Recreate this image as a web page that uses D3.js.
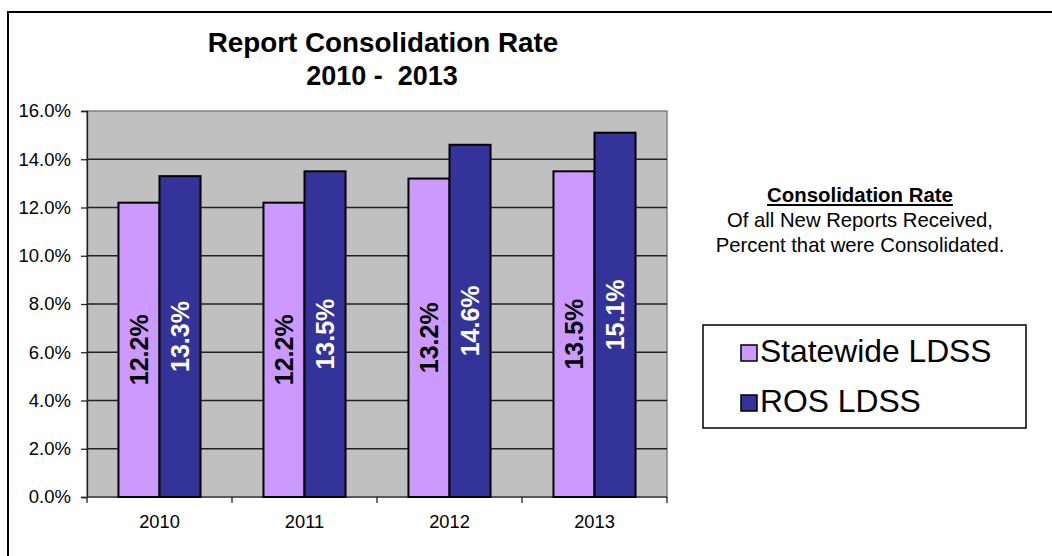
<!DOCTYPE html>
<html>
<head>
<meta charset="utf-8">
<script src="https://cdn.jsdelivr.net/npm/d3@7"></script>
<style>
  body { margin: 0; background: #fff; }
  svg { display: block; font-family: Arial, "Liberation Sans", sans-serif; }
</style>
</head>
<body>
<div id="chart"></div>
<script>
// data
var years = ["2010", "2011", "2012", "2013"];
var seriesNames = ["Statewide LDSS", "ROS LDSS"];
var statewide = [12.2, 12.2, 13.2, 13.5];
var ros = [13.3, 13.5, 14.6, 15.1];
var seriesColors = ["#CC99FF", "#333399"];
var labelColors = ["#000", "#fff"];
var yTicks = [0, 2, 4, 6, 8, 10, 12, 14, 16];
var noteLines = ["Of all New Reports Received,", "Percent that were Consolidated."];

var W = 1052, H = 556;
var plot = {left: 87, top: 111, right: 667, bottom: 497};

var svg = d3.select("#chart").append("svg")
    .attr("width", W)
    .attr("height", H);

// outer frame (runs off the right and bottom edge)
svg.append("rect")
    .attr("x", 8).attr("y", 12)
    .attr("width", W + 20).attr("height", H + 20)
    .attr("fill", "#fff")
    .attr("stroke", "#000")
    .attr("stroke-width", 2);

var x0 = d3.scaleBand()
    .domain(years)
    .range([plot.left, plot.right]);
var groupW = x0.bandwidth() * 0.566;
var x1 = d3.scaleBand()
    .domain(seriesNames)
    .range([(x0.bandwidth() - groupW) / 2, (x0.bandwidth() + groupW) / 2]);
var y = d3.scaleLinear()
    .domain([0, 16])
    .range([plot.bottom, plot.top]);

// plot background
svg.append("rect")
    .attr("x", plot.left).attr("y", plot.top)
    .attr("width", plot.right - plot.left)
    .attr("height", plot.bottom - plot.top)
    .attr("fill", "#C0C0C0")
    .attr("stroke", "#808080")
    .attr("stroke-width", 1.5);

// gridlines
svg.append("g").selectAll("line")
    .data(yTicks.filter(function(d) { return d > 0 && d < 16; }))
    .enter().append("line")
    .attr("x1", plot.left).attr("x2", plot.right)
    .attr("y1", function(d) { return y(d); })
    .attr("y2", function(d) { return y(d); })
    .attr("stroke", "#222")
    .attr("stroke-width", 1.3);

// y axis
var yAxis = svg.append("g")
    .attr("transform", "translate(" + plot.left + ",0)")
    .call(d3.axisLeft(y).tickValues(yTicks).tickSize(6).tickPadding(10)
        .tickFormat(function(d) { return d.toFixed(1) + "%"; }));
yAxis.select(".domain").attr("stroke", "#222").attr("stroke-width", 1.3);
yAxis.selectAll(".tick line").attr("stroke", "#222").attr("stroke-width", 1.3);
yAxis.selectAll("text")
    .attr("fill", "#000")
    .style("font-size", "18.5px")
    .style("font-family", "Arial, 'Liberation Sans', sans-serif");

// x axis: ticks at band edges
var xAxis = svg.append("g")
    .attr("transform", "translate(0," + plot.bottom + ")");
xAxis.append("line")
    .attr("x1", plot.left).attr("x2", plot.right)
    .attr("stroke", "#444").attr("stroke-width", 1.5);
xAxis.selectAll("line.edge")
    .data(years.concat(["end"]))
    .enter().append("line")
    .attr("class", "edge")
    .attr("x1", function(d, i) { return plot.left + i * x0.bandwidth(); })
    .attr("x2", function(d, i) { return plot.left + i * x0.bandwidth(); })
    .attr("y1", 0).attr("y2", 6)
    .attr("stroke", "#222").attr("stroke-width", 1.3);
xAxis.selectAll("text")
    .data(years)
    .enter().append("text")
    .attr("x", function(d) { return x0(d) + x0.bandwidth() / 2; })
    .attr("y", 31)
    .attr("text-anchor", "middle")
    .style("font-size", "18.3px")
    .text(function(d) { return d; });

// bars
var rows = years.map(function(yr, i) {
    return {year: yr, values: [statewide[i], ros[i]]};
});
var groups = svg.append("g").selectAll("g")
    .data(rows)
    .enter().append("g")
    .attr("transform", function(d) { return "translate(" + x0(d.year) + ",0)"; });

groups.selectAll("rect")
    .data(function(d) { return d.values.map(function(v, k) { return {k: k, v: v}; }); })
    .enter().append("rect")
    .attr("x", function(d) { return x1(seriesNames[d.k]); })
    .attr("width", x1.bandwidth())
    .attr("y", function(d) { return y(d.v); })
    .attr("height", function(d) { return y(0) - y(d.v); })
    .attr("fill", function(d) { return seriesColors[d.k]; })
    .attr("stroke", "#000")
    .attr("stroke-width", 2);

// value labels, rotated and centred in the bar
groups.selectAll("text")
    .data(function(d) { return d.values.map(function(v, k) { return {k: k, v: v}; }); })
    .enter().append("text")
    .attr("transform", function(d) {
        var cx = x1(seriesNames[d.k]) + x1.bandwidth() / 2;
        var cy = (y(d.v) + y(0)) / 2;
        return "translate(" + cx + "," + cy + ") rotate(-90)";
    })
    .attr("text-anchor", "middle")
    .attr("dy", "0.36em")
    .attr("fill", function(d) { return labelColors[d.k]; })
    .style("font-size", "25px")
    .style("font-weight", "bold")
    .text(function(d) { return d.v.toFixed(1) + "%"; });

// title
svg.append("text")
    .attr("x", 383).attr("y", 52)
    .attr("text-anchor", "middle")
    .style("font-size", "27.8px")
    .style("font-weight", "bold")
    .text("Report Consolidation Rate");
svg.append("text")
    .attr("x", 382).attr("y", 85)
    .attr("text-anchor", "middle")
    .style("font-size", "27px")
    .style("font-weight", "bold")
    .style("white-space", "pre")
    .attr("xml:space", "preserve")
    .text("2010 -  2013");

// side note
svg.append("text")
    .attr("x", 860).attr("y", 202)
    .attr("text-anchor", "middle")
    .style("font-size", "20.4px")
    .style("font-weight", "bold")
    .style("text-decoration", "underline")
    .text("Consolidation Rate");
svg.append("g").selectAll("text")
    .data(noteLines)
    .enter().append("text")
    .attr("x", 860)
    .attr("y", function(d, i) { return 227 + i * 25; })
    .attr("text-anchor", "middle")
    .style("font-size", "20.3px")
    .text(function(d) { return d; });

// legend
var legend = svg.append("g");
legend.append("rect")
    .attr("x", 703).attr("y", 325)
    .attr("width", 323).attr("height", 103)
    .attr("fill", "#fff")
    .attr("stroke", "#000")
    .attr("stroke-width", 1.5);
var items = legend.selectAll("g")
    .data(seriesNames)
    .enter().append("g")
    .attr("transform", function(d, i) { return "translate(741," + (362 + i * 50) + ")"; });
items.append("rect")
    .attr("x", 0).attr("y", -17)
    .attr("width", 16).attr("height", 16)
    .attr("fill", function(d, i) { return seriesColors[i]; })
    .attr("stroke", "#000")
    .attr("stroke-width", 1.5);
items.append("text")
    .attr("x", 19).attr("y", 0)
    .style("font-size", "31.8px")
    .text(function(d) { return d; });
</script>
</body>
</html>
